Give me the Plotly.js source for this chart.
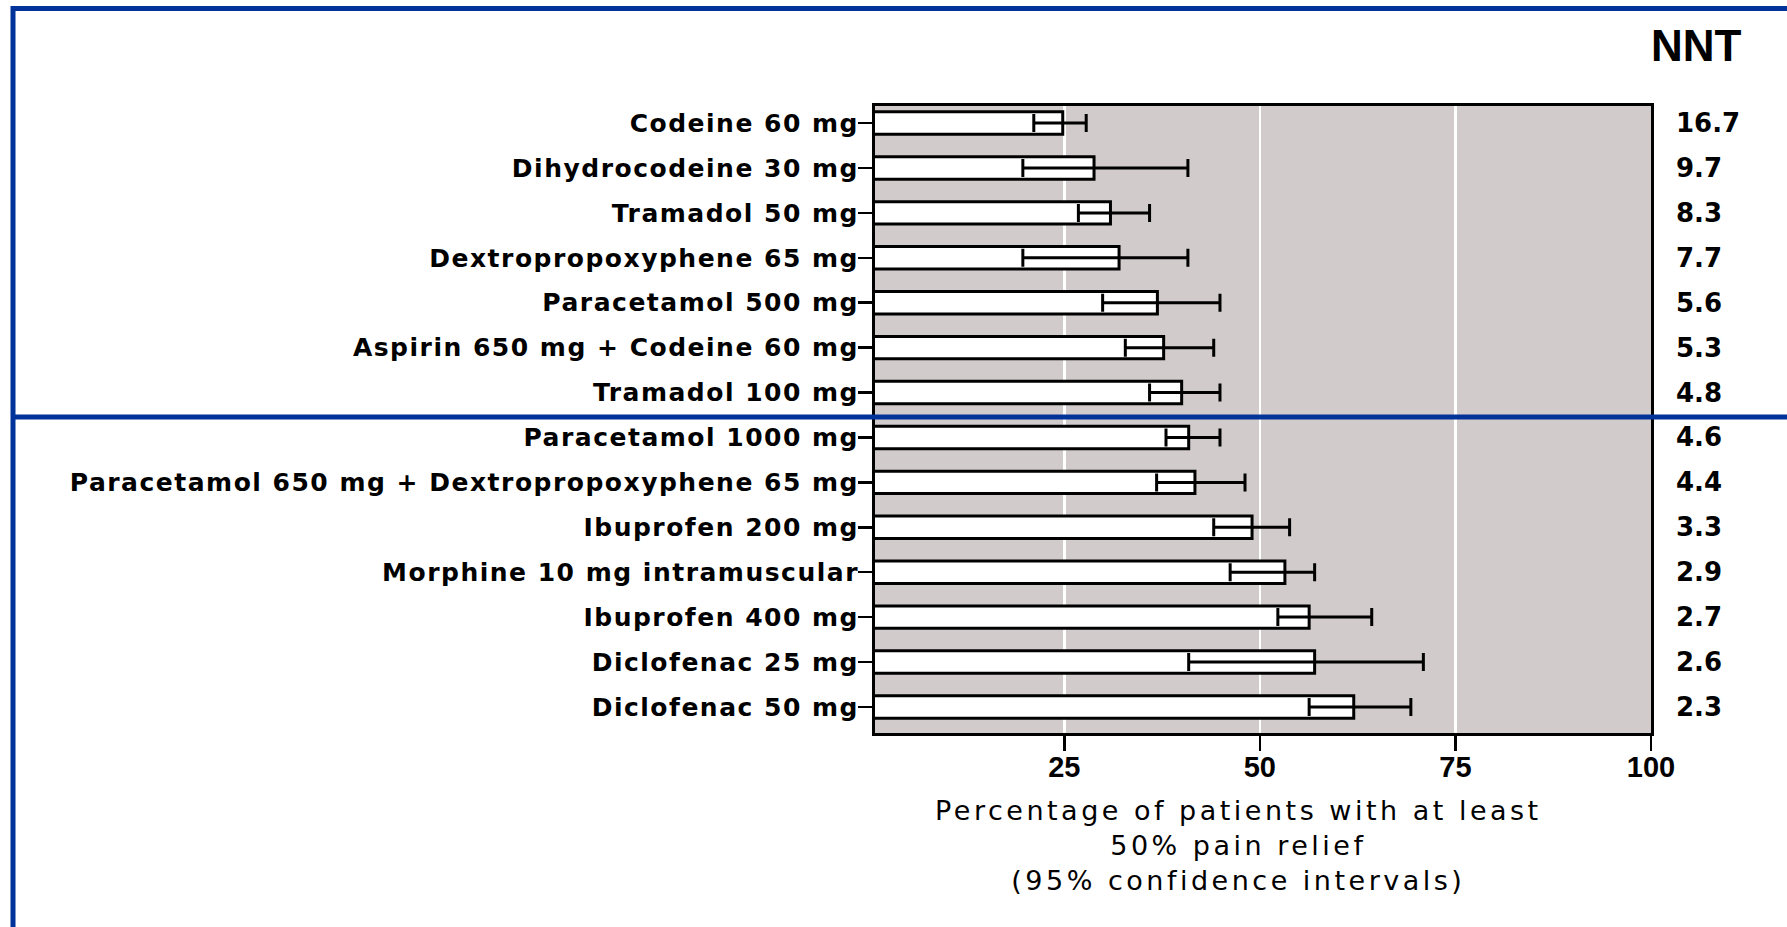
<!DOCTYPE html>
<html>
<head>
<meta charset="utf-8">
<script src="https://cdn.plot.ly/plotly-3.0.1.min.js"></script>
<style>
  html, body { margin: 0; padding: 0; background: #ffffff; }
  #chart { width: 1787px; height: 927px; }
  .ytick text { letter-spacing: 1.5px; }
  g.annotation[data-index="0"] text { letter-spacing: 3.5px; }
</style>
</head>
<body>
<div id="chart"></div>
<script>
// ---- data ----
const drugs = [
  "Codeine 60 mg",
  "Dihydrocodeine 30 mg",
  "Tramadol 50 mg",
  "Dextropropoxyphene 65 mg",
  "Paracetamol 500 mg",
  "Aspirin 650 mg + Codeine 60 mg",
  "Tramadol 100 mg",
  "Paracetamol 1000 mg",
  "Paracetamol 650 mg + Dextropropoxyphene 65 mg",
  "Ibuprofen 200 mg",
  "Morphine 10 mg intramuscular",
  "Ibuprofen 400 mg",
  "Diclofenac 25 mg",
  "Diclofenac 50 mg"
];
const percent = [24.8, 28.8, 30.9, 32.0, 36.9, 37.7, 40.0, 40.9, 41.7, 49.0, 53.2, 56.3, 57.0, 62.0];
const ciLower = [21.1, 19.7, 26.8, 19.7, 29.9, 32.8, 35.9, 38.0, 36.8, 44.1, 46.2, 52.3, 40.9, 56.3];
const ciUpper = [27.8, 40.8, 35.9, 40.8, 44.9, 44.1, 44.9, 44.9, 48.1, 53.8, 57.0, 64.3, 70.9, 69.3];
const nnt = ["16.7", "9.7", "8.3", "7.7", "5.6", "5.3", "4.8", "4.6", "4.4", "3.3", "2.9", "2.7", "2.6", "2.3"];
const xTickVals = [25, 50, 75, 100];
const xTickText = ["25", "50", "75", "100"];
const nntHeader = "NNT";
const xTitleLines = ["Percentage of patients with at least", "50% pain relief", "(95% confidence intervals)"];

// ---- layout geometry (pixels) ----
const W = 1787, H = 927;
const plotL = 875, plotR = 1651, plotT = 106, plotB = 733;
const pw = plotR - plotL, ph = plotB - plotT;
const px = v => (v - plotL) / pw;   // pixel -> paper x
const py = v => (plotB - v) / ph;   // pixel -> paper y

const blue = "#003399";

const trace = {
  type: "bar",
  orientation: "h",
  y: drugs,
  x: percent,
  width: 0.5,
  marker: { color: "#ffffff", line: { color: "#000000", width: 3 } },
  error_x: {
    type: "data",
    symmetric: false,
    array: percent.map((v, i) => ciUpper[i] - v),
    arrayminus: percent.map((v, i) => v - ciLower[i]),
    color: "#000000",
    thickness: 3,
    width: 9
  },
  hoverinfo: "skip"
};

const annotations = [];
annotations.push({
  xref: "paper", yref: "paper",
  x: px(1238), y: py(845),
  xanchor: "center", yanchor: "middle",
  text: xTitleLines.join("<br>"),
  showarrow: false,
  align: "center",
  font: { family: "DejaVu Sans", size: 27, color: "#000000" }
});
annotations.push({
  xref: "paper", yref: "paper",
  x: px(1696), y: py(46),
  xanchor: "center", yanchor: "middle",
  text: nntHeader,
  showarrow: false,
  font: { family: "Liberation Sans", size: 44, color: "#000000", weight: "bold" }
});
nnt.forEach((v, i) => {
  annotations.push({
    xref: "paper", yref: "y",
    x: px(1674), y: drugs[i],
    xanchor: "left", yanchor: "middle",
    text: v,
    showarrow: false,
    font: { family: "DejaVu Sans", size: 26, color: "#000000", weight: "bold" }
  });
});

const shapes = [
  // top frame line
  { type: "line", xref: "paper", yref: "paper", x0: px(11), x1: px(W + 5), y0: py(8.5), y1: py(8.5),
    line: { color: blue, width: 5 } },
  // left frame line
  { type: "line", xref: "paper", yref: "paper", x0: px(13), x1: px(13), y0: py(6), y1: py(H + 5),
    line: { color: blue, width: 5 } },
  // separator line
  { type: "line", xref: "paper", yref: "paper", x0: px(11), x1: px(W + 5), y0: py(417), y1: py(417),
    line: { color: blue, width: 5 } }
];

const layout = {
  width: W, height: H,
  margin: { l: plotL, r: W - plotR, t: plotT, b: H - plotB, pad: 0 },
  paper_bgcolor: "#ffffff",
  plot_bgcolor: "#d1cbcb",
  showlegend: false,
  xaxis: {
    range: [0.8, 100],
    tickvals: xTickVals,
    ticktext: xTickText,
    ticks: "outside",
    ticklen: 15,
    tickwidth: 2.5,
    tickcolor: "#000000",
    ticklabelstandoff: -9,
    showgrid: true,
    gridcolor: "#ffffff",
    gridwidth: 2.5,
    zeroline: false,
    showline: true,
    linecolor: "#000000",
    linewidth: 3,
    mirror: true,
    tickfont: { family: "Liberation Sans", size: 29, color: "#000000", weight: "bold" },
    fixedrange: true
  },
  yaxis: {
    type: "category",
    categoryorder: "array",
    categoryarray: drugs,
    range: [13.58, -0.38],
    ticks: "outside",
    ticklen: 14,
    tickwidth: 2.5,
    tickcolor: "#000000",
    showgrid: false,
    zeroline: false,
    showline: true,
    linecolor: "#000000",
    linewidth: 3,
    mirror: true,
    ticklabelstandoff: -6,
    tickfont: { family: "DejaVu Sans", size: 25, color: "#000000", weight: "bold" },
    fixedrange: true
  },
  annotations: annotations,
  shapes: shapes
};

Plotly.newPlot("chart", [trace], layout, { displayModeBar: false, staticPlot: true });
</script>
</body>
</html>
